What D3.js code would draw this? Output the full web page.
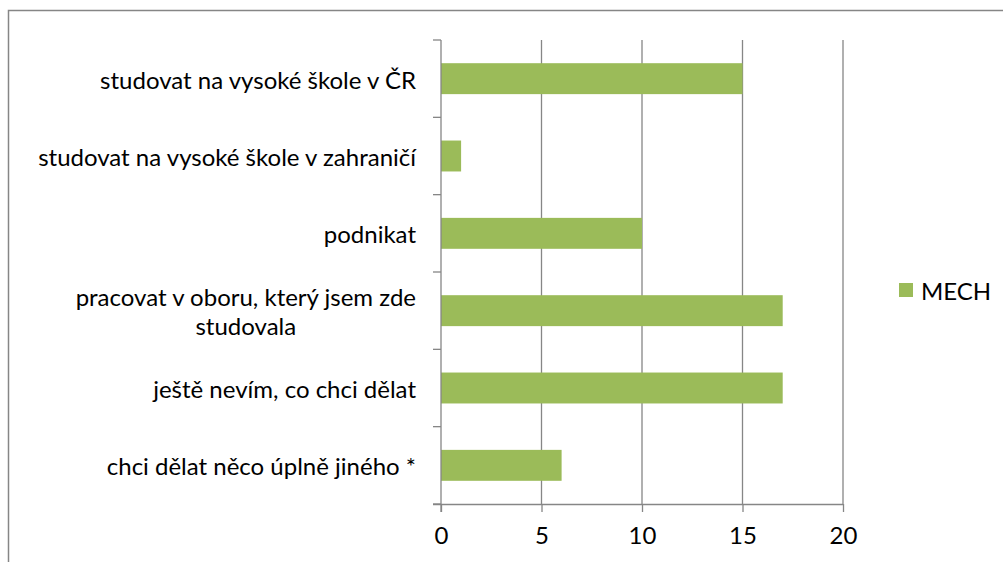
<!DOCTYPE html>
<html><head><meta charset="utf-8">
<script src="https://cdn.jsdelivr.net/npm/d3@7"></script>
<style>
html,body{margin:0;padding:0;background:#fff;}
svg{display:block;}
text{font-family:Lato,"Open Sans",sans-serif;fill:#000;}
</style></head>
<body>
<script>
const categories = [
  "studovat na vysoké škole v ČR",
  "studovat na vysoké škole v zahraničí",
  "podnikat",
  "pracovat v oboru, který jsem zde studovala",
  "ještě nevím, co chci dělat",
  "chci dělat něco úplně jiného *"
];
const seriesName = "MECH";
const values = [15, 1, 10, 17, 17, 6];
const xTicks = [0, 5, 10, 15, 20];

const W = 1003, H = 562;
const pLeft = 441, pRight = 843, pTop = 40, pBottom = 504;
const gray = "#868686", green = "#9BBB59";

const svg = d3.select("body").append("svg").attr("width", W).attr("height", H);

// outer border (top and left visible)
svg.append("path").attr("d", `M8.5,${H} V10.5 H${W}`).attr("fill","none")
  .attr("stroke", gray).attr("stroke-width", 1.5);

const x = d3.scaleLinear().domain([0, 20]).range([pLeft, pRight]);
const y = d3.scaleBand().domain(categories).range([pTop, pBottom]).paddingInner(0.6).paddingOuter(0.3);

// gridlines
svg.append("g").selectAll("line").data(xTicks.slice(1)).join("line")
  .attr("x1", d => x(d)).attr("x2", d => x(d)).attr("y1", pTop).attr("y2", pBottom)
  .attr("stroke", gray).attr("stroke-width", 1.3);

// bars
svg.append("g").selectAll("rect").data(values).join("rect")
  .attr("x", x(0)).attr("y", (d, i) => y(categories[i]))
  .attr("width", d => x(d) - x(0)).attr("height", y.bandwidth())
  .attr("fill", green);

const fs = 24;

// x axis
const xAxis = d3.axisBottom(x).tickValues(xTicks).tickSize(8).tickPadding(15).tickFormat(d3.format("d"));
const gx = svg.append("g").attr("transform", `translate(0,${pBottom})`).call(xAxis);
gx.attr("font-size", null).attr("font-family", null);
gx.select(".domain").attr("stroke", gray).attr("stroke-width", 1.3).attr("d", `M${pLeft-8},0.5H${pRight}`);
gx.selectAll(".tick line").attr("stroke", gray).attr("stroke-width", 1.3);
gx.selectAll(".tick text").style("font-family", "Lato, 'Open Sans', sans-serif").style("font-size", fs + "px").attr("fill", "#000");

// y axis line and category ticks
const yBounds = d3.range(categories.length + 1).map(i => pTop + (pBottom - pTop) * i / categories.length);
svg.append("line").attr("x1", pLeft).attr("x2", pLeft).attr("y1", pTop).attr("y2", pBottom + 8)
  .attr("stroke", gray).attr("stroke-width", 1.3);
svg.append("g").selectAll("line").data(yBounds).join("line")
  .attr("x1", pLeft - 8).attr("x2", pLeft).attr("y1", d => d).attr("y2", d => d)
  .attr("stroke", gray).attr("stroke-width", 1.3);

// category labels
const labelRight = 416;
const maxW = 405;
const lg = svg.append("g").style("font-size", fs + "px");
const measure = lg.append("text").attr("x", -1000).attr("y", -1000);
function width(s) { measure.text(s); return measure.node().getComputedTextLength(); }
categories.forEach(c => {
  const words = c.split(" ");
  const lines = [];
  let cur = "";
  words.forEach(w => {
    const t = cur ? cur + " " + w : w;
    if (width(t) > maxW && cur) { lines.push(cur); cur = w; } else cur = t;
  });
  lines.push(cur);
  const cy = y(c) + y.bandwidth() / 2;
  const lh = 29;
  const blockW = d3.max(lines, width);
  const t = lg.append("text").attr("dominant-baseline", "central");
  lines.forEach((ln, i) => {
    const ly = cy + (i - (lines.length - 1) / 2) * lh;
    if (lines.length === 1) {
      t.append("tspan").attr("x", labelRight).attr("y", ly).attr("text-anchor", "end").text(ln);
    } else {
      t.append("tspan").attr("x", labelRight - blockW / 2).attr("y", ly).attr("text-anchor", "middle").text(ln);
    }
  });
});
measure.remove();

// legend
const leg = svg.append("g");
leg.append("rect").attr("x", 899).attr("y", 283).attr("width", 14).attr("height", 14).attr("fill", green);
leg.append("text").attr("x", 921).attr("y", 290).attr("dominant-baseline", "central")
  .style("font-size", fs + "px").text(seriesName);
</script>
</body></html>
